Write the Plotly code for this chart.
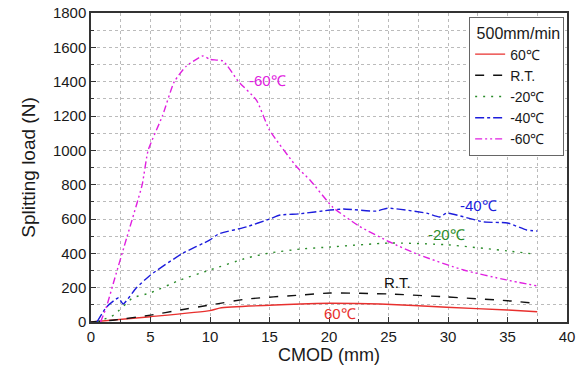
import plotly.graph_objects as go

# Data
x_60 = [0, 5, 10, 10.8, 17.6, 20.1, 24.3, 29.9, 35, 37.5]
y_60 = [0, 31, 66, 81, 105, 109, 105, 86, 70, 60]

x_rt = [0, 2, 5, 7.5, 10, 13.1, 17.6, 20.1, 25.1, 29.9, 35, 37.2]
y_rt = [0, 12, 40, 70, 99, 134, 157, 169, 163, 146, 124, 110]

x_m20 = [0.5, 1.9, 3.5, 5, 7.5, 10, 13.1, 15, 17.6, 20.1, 25.1, 29.9, 35, 37.2]
y_m20 = [0, 40, 140, 170, 245, 303, 373, 402, 425, 437, 460, 450, 414, 396]

x_m40 = [0.5, 1.3, 2.3, 2.7, 3.8, 5, 7.7, 10, 10.7, 13.1, 15, 15.9, 17.5, 20.1, 21.2, 24, 24.9, 28.2, 29.3, 29.9, 33, 35, 36.6, 37.5]
y_m40 = [0, 87, 140, 105, 198, 274, 400, 478, 512, 555, 600, 623, 630, 652, 658, 646, 663, 634, 612, 634, 583, 577, 536, 530]

x_m60 = [0.8, 1.3, 2, 3, 4.3, 4.8, 6, 7, 8, 9.4, 10, 11.1, 12.4, 13.9, 15, 17.3, 18.4, 20.3, 22.5, 25.1, 27.6, 31.3, 34.9, 37.5]
y_m60 = [0, 89, 255, 490, 800, 1000, 1200, 1400, 1490, 1550, 1530, 1520, 1400, 1293, 1118, 903, 827, 670, 560, 466, 390, 303, 245, 210]

names = ["60℃", "R.T.", "-20℃", "-40℃", "-60℃"]
colors = ["#e8302e", "#111111", "#2a8c2a", "#1c1cdc", "#e020e0"]
dashes = ["solid", "dash", "2px,6px", "dashdot", "7px,3px,2px,3px,2px,3px"]

# Inline label positions (data coords)
lab_x = [20.9, 25.75, 29.9, 32.6, 14.8]
lab_y = [47, 233, 507, 676, 1409]

FONT = "Liberation Sans"
TXT = "#1a1a1a"

fig = go.Figure()
series = [(x_60, y_60), (x_rt, y_rt), (x_m20, y_m20), (x_m40, y_m40), (x_m60, y_m60)]
for (xs, ys), n, c, d in zip(series, names, colors, dashes):
    fig.add_trace(go.Scatter(x=xs, y=ys, mode="lines", name=n,
                             line=dict(color=c, dash=d, width=1.4, shape="spline", smoothing=0.5)))

for n, c, lx, ly in zip(names, colors, lab_x, lab_y):
    fig.add_annotation(x=lx, y=ly, text=n, showarrow=False,
                       font=dict(color=c, size=15, family=FONT))

axis_common = dict(
    showline=True, linecolor="#333333", linewidth=1.5, mirror=True,
    ticks="inside", ticklen=5, tickcolor="#333333",
    showgrid=True, gridcolor="#bbbbbb", griddash="dot", gridwidth=1,
    zeroline=False, automargin=False,
    tickfont=dict(size=15, family=FONT, color=TXT),
)

fig.update_xaxes(range=[0, 40], dtick=5, tick0=0,
                 title=dict(text="CMOD (mm)", font=dict(size=18, family=FONT, color=TXT), standoff=4),
                 minor=dict(dtick=2.5, ticks="inside", ticklen=3, tickcolor="#333333",
                            showgrid=True, gridcolor="#bbbbbb", griddash="dot"),
                 **axis_common)
fig.update_yaxes(range=[0, 1800], dtick=200, tick0=0,
                 title=dict(text="Splitting load (N)", font=dict(size=19, family=FONT, color=TXT), standoff=12),
                 minor=dict(dtick=100, ticks="inside", ticklen=3, tickcolor="#333333",
                            showgrid=True, gridcolor="#bbbbbb", griddash="dot"),
                 **axis_common)

fig.update_layout(
    width=582, height=368,
    margin=dict(l=91, r=15, t=13, b=46),
    plot_bgcolor="white", paper_bgcolor="white",
    font=dict(family=FONT, size=15, color=TXT),
    legend=dict(
        title=dict(text=" 500mm/min", font=dict(size=16)),
        x=0.994, y=0.988, xanchor="right", yanchor="top",
        bordercolor="#666666", borderwidth=1, bgcolor="white",
        font=dict(size=14), tracegroupgap=0, itemwidth=30,
    ),
)

fig.write_html("out.html")
